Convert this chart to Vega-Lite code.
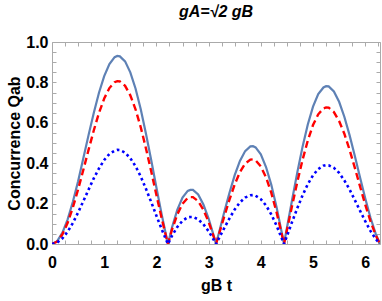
{
  "$schema": "https://vega.github.io/schema/vega-lite/v6.json",
  "width": 328,
  "height": 202,
  "autosize": "none",
  "padding": {"left": 52, "top": 42, "right": 2, "bottom": 57},
  "title": {"text": "gA=√2 gB", "font": "Liberation Sans", "fontSize": 16, "fontWeight": "bold", "fontStyle": "italic", "color": "black", "offset": 14, "anchor": "middle"},
  "config": {
    "view": {"stroke": "#aaaaaa", "strokeWidth": 1},
    "axis": {"domain": false, "grid": false, "tickColor": "#aaaaaa", "tickSize": -4, "labelFont": "Liberation Sans", "labelFontSize": 16, "labelFontWeight": "bold", "labelColor": "black", "titleFont": "Liberation Sans", "titleFontSize": 16, "titleFontWeight": "bold", "titleColor": "black", "labelOverlap": false, "labelFlush": false}
  },
  "data": {"values": [
    {"t": 0, "q1": 0, "q2": 0, "q3": 0},
    {"t": 0.1, "q1": 0.014, "q2": 0.012, "q3": 0.007},
    {"t": 0.2, "q1": 0.056, "q2": 0.048, "q3": 0.028},
    {"t": 0.3, "q1": 0.122, "q2": 0.105, "q3": 0.061},
    {"t": 0.4, "q1": 0.209, "q2": 0.181, "q3": 0.104},
    {"t": 0.5, "q1": 0.311, "q2": 0.270, "q3": 0.156},
    {"t": 0.6, "q1": 0.424, "q2": 0.367, "q3": 0.212},
    {"t": 0.7, "q1": 0.539, "q2": 0.466, "q3": 0.269},
    {"t": 0.8, "q1": 0.649, "q2": 0.562, "q3": 0.325},
    {"t": 0.9, "q1": 0.749, "q2": 0.649, "q3": 0.374},
    {"t": 1.0, "q1": 0.831, "q2": 0.720, "q3": 0.416},
    {"t": 1.1, "q1": 0.891, "q2": 0.772, "q3": 0.446},
    {"t": 1.2, "q1": 0.925, "q2": 0.801, "q3": 0.462},
    {"t": 1.25, "q1": 0.931, "q2": 0.806, "q3": 0.466},
    {"t": 1.3, "q1": 0.929, "q2": 0.805, "q3": 0.465},
    {"t": 1.4, "q1": 0.904, "q2": 0.783, "q3": 0.452},
    {"t": 1.5, "q1": 0.850, "q2": 0.736, "q3": 0.425},
    {"t": 1.6, "q1": 0.770, "q2": 0.667, "q3": 0.385},
    {"t": 1.7, "q1": 0.667, "q2": 0.578, "q3": 0.334},
    {"t": 1.8, "q1": 0.546, "q2": 0.473, "q3": 0.273},
    {"t": 1.9, "q1": 0.416, "q2": 0.360, "q3": 0.208},
    {"t": 2.0, "q1": 0.280, "q2": 0.243, "q3": 0.140},
    {"t": 2.1, "q1": 0.148, "q2": 0.128, "q3": 0.074},
    {"t": 2.2, "q1": 0.025, "q2": 0.021, "q3": 0.012},
    {"t": 2.221, "q1": 0, "q2": 0, "q3": 0},
    {"t": 2.3, "q1": 0.083, "q2": 0.072, "q3": 0.041},
    {"t": 2.4, "q1": 0.169, "q2": 0.146, "q3": 0.084},
    {"t": 2.5, "q1": 0.230, "q2": 0.199, "q3": 0.115},
    {"t": 2.6, "q1": 0.263, "q2": 0.228, "q3": 0.132},
    {"t": 2.65, "q1": 0.268, "q2": 0.232, "q3": 0.134},
    {"t": 2.7, "q1": 0.268, "q2": 0.232, "q3": 0.134},
    {"t": 2.8, "q1": 0.245, "q2": 0.212, "q3": 0.122},
    {"t": 2.9, "q1": 0.196, "q2": 0.170, "q3": 0.098},
    {"t": 3.0, "q1": 0.126, "q2": 0.109, "q3": 0.063},
    {"t": 3.1, "q1": 0.039, "q2": 0.034, "q3": 0.020},
    {"t": 3.1416, "q1": 0, "q2": 0, "q3": 0},
    {"t": 3.2, "q1": 0.057, "q2": 0.050, "q3": 0.029},
    {"t": 3.3, "q1": 0.158, "q2": 0.136, "q3": 0.079},
    {"t": 3.4, "q1": 0.254, "q2": 0.220, "q3": 0.127},
    {"t": 3.5, "q1": 0.341, "q2": 0.295, "q3": 0.171},
    {"t": 3.6, "q1": 0.411, "q2": 0.356, "q3": 0.206},
    {"t": 3.7, "q1": 0.460, "q2": 0.398, "q3": 0.230},
    {"t": 3.8, "q1": 0.483, "q2": 0.418, "q3": 0.241},
    {"t": 3.85, "q1": 0.484, "q2": 0.419, "q3": 0.242},
    {"t": 3.9, "q1": 0.478, "q2": 0.414, "q3": 0.239},
    {"t": 4.0, "q1": 0.444, "q2": 0.384, "q3": 0.222},
    {"t": 4.1, "q1": 0.381, "q2": 0.330, "q3": 0.191},
    {"t": 4.2, "q1": 0.294, "q2": 0.254, "q3": 0.147},
    {"t": 4.3, "q1": 0.184, "q2": 0.159, "q3": 0.092},
    {"t": 4.4, "q1": 0.058, "q2": 0.050, "q3": 0.029},
    {"t": 4.443, "q1": 0, "q2": 0, "q3": 0},
    {"t": 4.5, "q1": 0.079, "q2": 0.068, "q3": 0.039},
    {"t": 4.6, "q1": 0.219, "q2": 0.190, "q3": 0.110},
    {"t": 4.7, "q1": 0.356, "q2": 0.308, "q3": 0.178},
    {"t": 4.8, "q1": 0.482, "q2": 0.417, "q3": 0.241},
    {"t": 4.9, "q1": 0.592, "q2": 0.512, "q3": 0.296},
    {"t": 5.0, "q1": 0.680, "q2": 0.589, "q3": 0.340},
    {"t": 5.1, "q1": 0.742, "q2": 0.642, "q3": 0.371},
    {"t": 5.2, "q1": 0.775, "q2": 0.671, "q3": 0.388},
    {"t": 5.25, "q1": 0.781, "q2": 0.676, "q3": 0.391},
    {"t": 5.3, "q1": 0.780, "q2": 0.675, "q3": 0.390},
    {"t": 5.4, "q1": 0.755, "q2": 0.653, "q3": 0.377},
    {"t": 5.5, "q1": 0.704, "q2": 0.609, "q3": 0.352},
    {"t": 5.6, "q1": 0.630, "q2": 0.546, "q3": 0.315},
    {"t": 5.7, "q1": 0.539, "q2": 0.467, "q3": 0.270},
    {"t": 5.8, "q1": 0.437, "q2": 0.378, "q3": 0.218},
    {"t": 5.9, "q1": 0.330, "q2": 0.286, "q3": 0.165},
    {"t": 6.0, "q1": 0.226, "q2": 0.195, "q3": 0.113},
    {"t": 6.1, "q1": 0.131, "q2": 0.113, "q3": 0.065},
    {"t": 6.2, "q1": 0.051, "q2": 0.044, "q3": 0.025},
    {"t": 6.2832, "q1": 0, "q2": 0, "q3": 0}
  ]},
  "layer": [
    {
      "mark": {"type": "line", "color": "#5E81B5", "strokeWidth": 2.2, "clip": true},
      "encoding": {
        "x": {"field": "t", "type": "quantitative", "scale": {"domain": [0, 6.2832], "nice": false, "zero": false},
          "axis": {"orient": "bottom", "title": "gB t", "values": [0,0.25,0.5,0.75,1,1.25,1.5,1.75,2,2.25,2.5,2.75,3,3.25,3.5,3.75,4,4.25,4.5,4.75,5,5.25,5.5,5.75,6,6.25],
            "labelExpr": "abs(datum.value - round(datum.value)) < 0.001 ? format(datum.value, 'd') : ''", "labelPadding": 14, "titlePadding": 7}},
        "y": {"field": "q1", "type": "quantitative", "scale": {"domain": [0, 1], "nice": false},
          "axis": {"orient": "left", "title": "Concurrence Qab", "values": [0,0.05,0.1,0.15,0.2,0.25,0.3,0.35,0.4,0.45,0.5,0.55,0.6,0.65,0.7,0.75,0.8,0.85,0.9,0.95,1],
            "labelExpr": "abs(datum.value*5 - round(datum.value*5)) < 0.001 ? format(datum.value, '.1f') : ''", "labelPadding": 8, "titlePadding": 3}}
      }
    },
    {
      "mark": {"type": "line", "color": "#FF0000", "strokeWidth": 2.4, "strokeDash": [7, 4], "clip": true},
      "encoding": {
        "x": {"field": "t", "type": "quantitative",
          "axis": {"orient": "top", "title": null, "labels": false, "values": [0,0.25,0.5,0.75,1,1.25,1.5,1.75,2,2.25,2.5,2.75,3,3.25,3.5,3.75,4,4.25,4.5,4.75,5,5.25,5.5,5.75,6,6.25]}},
        "y": {"field": "q2", "type": "quantitative",
          "axis": {"orient": "right", "title": null, "labels": false, "values": [0,0.05,0.1,0.15,0.2,0.25,0.3,0.35,0.4,0.45,0.5,0.55,0.6,0.65,0.7,0.75,0.8,0.85,0.9,0.95,1]}}
      }
    },
    {
      "mark": {"type": "line", "color": "#0000FF", "strokeWidth": 2.6, "strokeDash": [2.6, 3], "clip": true},
      "encoding": {
        "x": {"field": "t", "type": "quantitative", "axis": null},
        "y": {"field": "q3", "type": "quantitative", "axis": null}
      }
    }
  ]
}
